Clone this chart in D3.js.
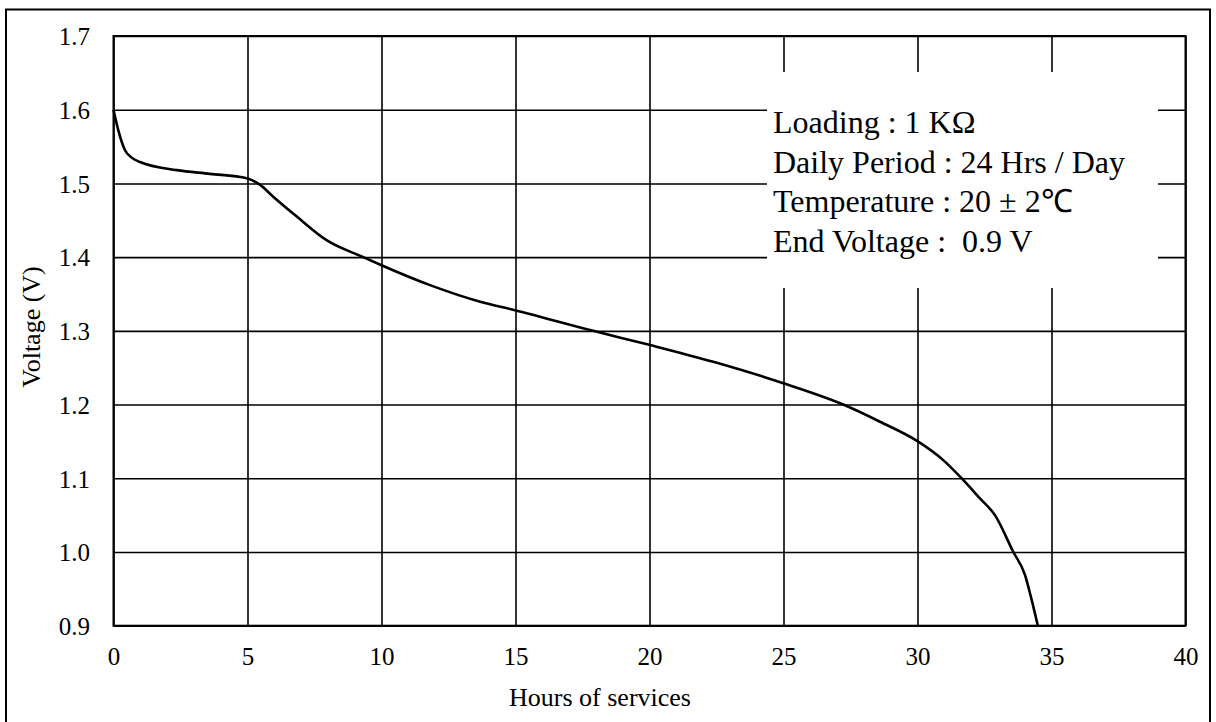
<!DOCTYPE html>
<html>
<head>
<meta charset="utf-8">
<script src="https://cdn.jsdelivr.net/npm/d3@7"></script>
<style>
  body { margin: 0; background: #fff; }
  svg { display: block; }
  text { font-family: "Liberation Serif", "Times New Roman", serif; fill: #000; }
</style>
</head>
<body>
<svg width="1216" height="722"></svg>
<script>
// discharge curve
const hours = [0, 0.18, 0.43, 0.68, 0.99, 2.36, 3.6, 4.97, 5.47, 5.96, 6.84, 7.95, 9.32, 10.0,
  11.81, 13.68, 14.98, 17.9, 19.99, 22.38, 24.99, 27.23, 28.6, 29.97, 30.96, 31.65, 32.33,
  32.89, 33.57, 34.01, 34.26, 34.49];
const voltage = [1.6, 1.572, 1.545, 1.535, 1.529, 1.518, 1.513, 1.507, 1.498, 1.482, 1.455, 1.423,
  1.4, 1.389, 1.362, 1.3395, 1.328, 1.300, 1.281, 1.258, 1.229, 1.2, 1.1767, 1.151, 1.1246,
  1.0998, 1.0727, 1.050, 1.0003, 0.969, 0.935, 0.9];

const xTicks = [0, 5, 10, 15, 20, 25, 30, 35, 40];
const yTicks = [0.9, 1.0, 1.1, 1.2, 1.3, 1.4, 1.5, 1.6, 1.7];

const notes = [
  "Loading : 1 KΩ",
  "Daily Period : 24 Hrs / Day",
  "Temperature : 20 ± 2℃",
  "End Voltage :  0.9 V"
];

const svg = d3.select("svg");

// outer frame
svg.append("rect")
  .attr("x", 6).attr("y", 9.5)
  .attr("width", 1204).attr("height", 720)
  .attr("fill", "none").attr("stroke", "#000").attr("stroke-width", 2);

const pLeft = 113.5, pRight = 1185.5, pTop = 36, pBottom = 625.7;
const plotW = pRight - pLeft, plotH = pBottom - pTop;

const xs = d3.scaleLinear().domain([0, 40]).range([pLeft, pRight]);
const ys = d3.scaleLinear().domain([0.9, 1.7]).range([pBottom, pTop]);

// grid + tick labels via axes
const xAxis = svg.append("g")
  .attr("transform", `translate(0,${pBottom})`)
  .call(d3.axisBottom(xs).tickValues(xTicks).tickFormat(d3.format("d"))
    .tickSize(-plotH).tickPadding(21.5));

const yAxis = svg.append("g")
  .attr("transform", `translate(${pLeft},0)`)
  .call(d3.axisLeft(ys).tickValues(yTicks).tickFormat(d3.format(".1f"))
    .tickSize(-plotW).tickPadding(23.5));

[xAxis, yAxis].forEach(a => {
  a.select(".domain").remove();
  a.selectAll("line").attr("stroke", "#000").attr("stroke-width", 1.6);
  a.selectAll("text")
    .style("font-family", '"Liberation Serif", "Times New Roman", serif')
    .style("font-size", "25px")
    .attr("fill", "#000");
});
yAxis.selectAll("text").attr("dy", "0.35em");

// legend box covering the grid
svg.append("rect")
  .attr("x", 767).attr("y", 72)
  .attr("width", 391).attr("height", 216)
  .attr("fill", "#fff");

svg.append("g").selectAll("text")
  .data(notes)
  .join("text")
  .attr("x", 773)
  .attr("y", (d, i) => 133 + i * 39.5)
  .style("font-size", "32px")
  .style("white-space", "pre")
  .text(d => d);

// the curve
const pts = hours.map((h, i) => [h, voltage[i]]);
const line = d3.line()
  .x(d => xs(d[0]))
  .y(d => ys(d[1]))
  .curve(d3.curveMonotoneX);

svg.append("path")
  .datum(pts)
  .attr("fill", "none")
  .attr("stroke", "#000")
  .attr("stroke-width", 2.6)
  .attr("stroke-linejoin", "round")
  .attr("d", line);

// plot frame
svg.append("rect")
  .attr("x", pLeft).attr("y", pTop)
  .attr("width", plotW).attr("height", plotH)
  .attr("fill", "none").attr("stroke", "#000").attr("stroke-width", 2);

// axis titles
svg.append("text")
  .attr("x", 600).attr("y", 706)
  .attr("text-anchor", "middle")
  .style("font-size", "26px")
  .text("Hours of services");

svg.append("text")
  .attr("transform", "translate(40,327) rotate(-90)")
  .attr("text-anchor", "middle")
  .style("font-size", "26px")
  .text("Voltage (V)");
</script>
</body>
</html>
